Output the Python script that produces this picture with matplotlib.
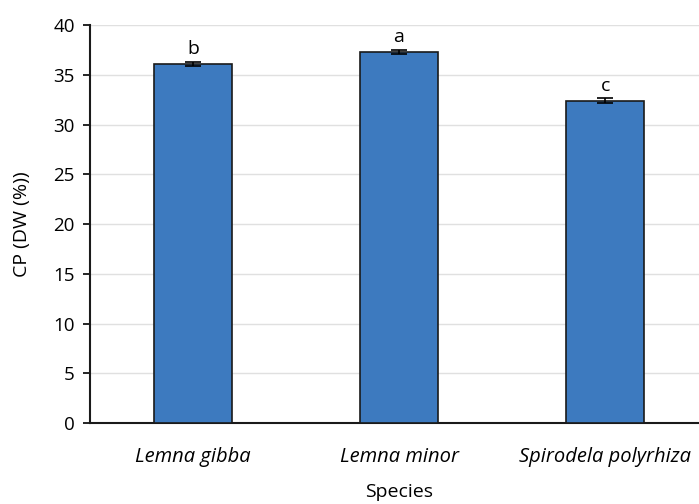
import numpy as np
import matplotlib.pyplot as plt

plt.rcParams['font.family'] = ['Open Sans', 'DejaVu Sans']

species = ['Lemna gibba', 'Lemna minor', 'Spirodela polyrhiza']
cp_values = [36.1, 37.3, 32.4]
cp_errors = [0.22, 0.2, 0.22]
letters = ['b', 'a', 'c']

fig = plt.figure(figsize=(6.99, 5.04), dpi=100)
ax = fig.add_axes([0.1288, 0.1607, 0.8842, 0.7897])

x = np.arange(len(species))
ax.bar(x, cp_values, width=0.375, color='#3d7abf', edgecolor='#1a1a1a',
       linewidth=1.2, zorder=3)
ax.errorbar(x, cp_values, yerr=cp_errors, fmt='none', ecolor='black',
            elinewidth=1.2, capsize=5.5, capthick=1.2, zorder=4)
for xi, v, e, lab in zip(x, cp_values, cp_errors, letters):
    ax.text(xi, v + e + 0.35, lab, ha='center', va='bottom', fontsize=14)

ax.set_xlim(-0.5, 2.5)
ax.set_ylim(0, 40)
ax.set_yticks(np.arange(0, 41, 5))
ax.set_xticks(x)
ax.set_xticklabels(species, fontstyle='italic', fontsize=14.5)
ax.tick_params(axis='x', length=0, pad=17)
ax.tick_params(axis='y', length=5, width=1.2, labelsize=13.5, pad=6)
ax.grid(axis='y', color='#e0e0e0', linewidth=1, zorder=0)
ax.set_axisbelow(True)
for s in ['top', 'right']:
    ax.spines[s].set_visible(False)
for s in ['left', 'bottom']:
    ax.spines[s].set_linewidth(1.5)
    ax.spines[s].set_color('#1a1a1a')
ax.set_xlabel('Species', fontsize=14, labelpad=12)
ax.set_ylabel('CP (DW (%))', fontsize=14, labelpad=16)

fig.savefig('out.png', dpi=100)
